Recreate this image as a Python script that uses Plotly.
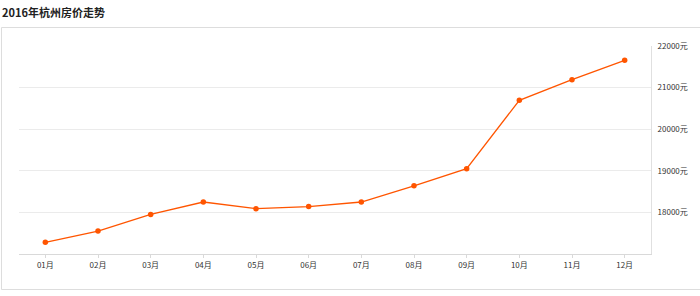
import plotly.graph_objects as go

months = ["01月", "02月", "03月", "04月", "05月", "06月", "07月", "08月", "09月", "10月", "11月", "12月"]
prices = [17280, 17550, 17950, 18250, 18090, 18140, 18250, 18640, 19050, 20695, 21190, 21655]
y_ticks = [18000, 19000, 20000, 21000, 22000]
y_tick_labels = ["18000元", "19000元", "20000元", "21000元", "22000元"]
title_text = "2016年杭州房价走势"

W, H = 700, 296
L, R, T, B = 19, 49, 46, 42
pw, ph = W - L - R, H - T - B

def px_to_paper_x(x):
    return (x - L) / pw

def px_to_paper_y(y):
    return (H - B - y) / ph

fig = go.Figure()
fig.add_trace(go.Scatter(
    x=months, y=prices, mode="lines+markers",
    line=dict(color="#ff5500", width=1.3),
    marker=dict(color="#ff5500", size=5.5),
    hoverinfo="x+y",
))

fig.update_layout(
    width=W, height=H,
    margin=dict(l=L, r=R, t=T, b=B),
    paper_bgcolor="white", plot_bgcolor="white",
    showlegend=False,
    font=dict(family="Noto Sans CJK SC, Noto Sans, sans-serif", color="#333333", size=8),
    xaxis=dict(
        type="category", range=[-0.5, 11.5],
        showgrid=False, showline=True, linecolor="#d9d9d9", linewidth=1,
        ticks="outside", ticklen=3, tickcolor="#d9d9d9",
        tickfont=dict(size=8, color="#333333"),
        fixedrange=True,
    ),
    yaxis=dict(
        range=[17000, 22000], side="right",
        tickmode="array", tickvals=y_ticks, ticktext=y_tick_labels,
        showgrid=True, gridcolor="#ebebeb", gridwidth=1,
        showline=True, linecolor="#e0e0e0", linewidth=1,
        ticks="", tickfont=dict(size=8, color="#333333"),
        ticklabelstandoff=4,
        zeroline=False, fixedrange=True,
    ),
    shapes=[
        dict(type="rect", xref="paper", yref="paper",
             x0=px_to_paper_x(1.5), x1=px_to_paper_x(705),
             y0=px_to_paper_y(289.5), y1=px_to_paper_y(27.5),
             line=dict(color="#dddddd", width=1), fillcolor="rgba(0,0,0,0)", layer="below"),
    ],
    annotations=[
        dict(text="<b>" + title_text + "</b>", xref="paper", yref="paper",
             x=px_to_paper_x(0), y=px_to_paper_y(12), xanchor="left", yanchor="middle",
             showarrow=False, font=dict(size=11, color="#222222")),
    ],
)

fig.write_html("out.html")
